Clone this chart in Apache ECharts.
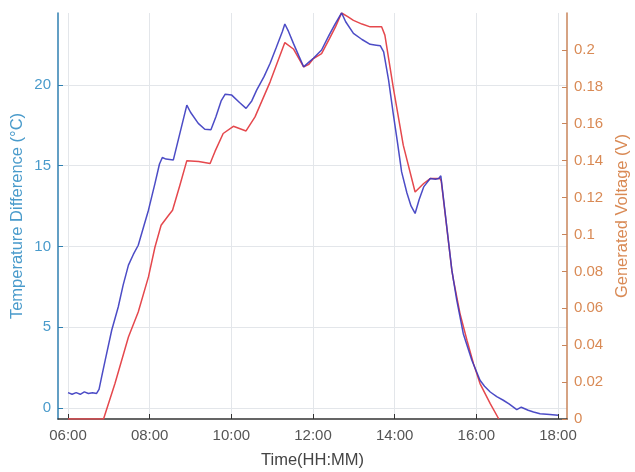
<!DOCTYPE html>
<html><head><meta charset="utf-8">
<script src="https://cdn.jsdelivr.net/npm/echarts@6/dist/echarts.min.js"></script>
<style>html,body{margin:0;padding:0;background:#fff}#c{width:635px;height:472px}</style>
</head><body><div id="c"></div>
<script>
// time in hours since midnight
const tempTime = [6.00,6.10,6.20,6.30,6.40,6.50,6.60,6.70,6.76,6.83,6.91,7.07,7.23,7.35,7.48,7.60,7.72,7.85,7.97,8.13,8.24,8.31,8.40,8.58,8.91,9.00,9.19,9.35,9.50,9.62,9.75,9.85,10.01,10.20,10.36,10.50,10.62,10.80,10.95,11.10,11.25,11.31,11.40,11.52,11.65,11.77,11.90,12.01,12.21,12.40,12.55,12.70,12.80,12.99,13.20,13.40,13.55,13.65,13.73,13.85,13.97,14.07,14.17,14.30,14.40,14.50,14.60,14.71,14.87,15.00,15.08,15.13,15.40,15.52,15.68,15.89,16.09,16.20,16.34,16.50,16.66,16.80,16.99,17.10,17.27,17.40,17.56,17.80,18.00];
const tempDiff = [0.95,0.85,0.95,0.85,1.00,0.90,0.95,0.90,1.15,2.0,2.95,4.81,6.25,7.6,8.84,9.5,10.07,11.2,12.24,13.9,15.1,15.5,15.4,15.35,18.74,18.3,17.61,17.25,17.22,18.0,19.0,19.42,19.36,18.9,18.54,19.0,19.67,20.5,21.33,22.3,23.3,23.76,23.3,22.56,21.8,21.11,21.4,21.64,22.15,23.1,23.8,24.45,23.9,23.18,22.8,22.5,22.45,22.41,22.04,20.3,18.12,16.4,14.61,13.3,12.5,12.04,12.9,13.68,14.2,14.15,14.2,14.37,8.53,6.67,4.6,2.95,1.72,1.35,0.99,0.70,0.48,0.25,-0.1,0.05,-0.14,-0.25,-0.35,-0.40,-0.45];
const voltTime = [6.00,6.87,7.15,7.48,7.72,7.97,8.13,8.28,8.45,8.56,8.74,8.91,9.20,9.48,9.60,9.80,10.05,10.36,10.58,10.95,11.31,11.52,11.77,11.90,12.01,12.21,12.40,12.55,12.70,12.85,12.99,13.20,13.40,13.68,13.76,13.97,14.21,14.50,14.71,14.87,15.11,15.14,15.40,15.44,15.60,15.77,15.93,16.09,16.34,16.55];
const voltage = [0,0,0.0192,0.0444,0.058,0.077,0.0932,0.105,0.110,0.1131,0.1267,0.1400,0.1395,0.1384,0.145,0.1547,0.1586,0.1561,0.1637,0.1827,0.2040,0.2005,0.1908,0.1922,0.1953,0.1980,0.2060,0.2125,0.2200,0.2180,0.2160,0.2140,0.2125,0.2125,0.2080,0.179,0.1484,0.123,0.1276,0.1303,0.1303,0.1290,0.0806,0.0752,0.0571,0.0427,0.030,0.0192,0.0083,0.0];
const xTicks = [6,8,10,12,14,16,18];
const tempTicks = [0,5,10,15,20];
const voltTicks = [0,0.02,0.04,0.06,0.08,0.1,0.12,0.14,0.16,0.18,0.2];

const blueAxis = '#2f7fb0', blueLab = '#4a9bcb';
const orAxis = '#c9855a', orLab = '#d98a55';
const FONT = 'Liberation Sans, Arial, sans-serif';

function hhmm(v){const h=Math.round(v);return (h<10?'0':'')+h+':00';}

const chart = echarts.init(document.getElementById('c'), null, {renderer:'canvas'});
chart.setOption({
  animation:false,
  backgroundColor:'#fff',
  grid:{left:58,right:68,top:13,bottom:53,containLabel:false,outerBoundsMode:'none'},
  xAxis:{
    type:'value', min:5.755, max:18.22,
    name:'Time(HH:MM)', nameLocation:'middle', nameGap:33,
    nameTextStyle:{color:'#444',fontSize:16.5,fontFamily:FONT},
    axisLine:{show:true,onZero:false,lineStyle:{color:'#333',width:1.5}},
    axisTick:{show:true,inside:true,length:5,customValues:xTicks,lineStyle:{color:'#333'}},
    axisLabel:{customValues:xTicks,formatter:hhmm,color:'#555',fontSize:15,fontFamily:FONT,margin:9},
    splitLine:{show:true,lineStyle:{color:'#e3e6ea',width:1}}
  },
  yAxis:[{
    type:'value', min:-0.68, max:24.44, position:'left',
    name:'Temperature Difference (°C)', nameLocation:'middle', nameGap:32, nameMoveOverlap:false,
    nameTextStyle:{color:blueLab,fontSize:16.5,fontFamily:FONT},
    axisLine:{show:true,onZero:false,lineStyle:{color:blueAxis,width:1.5}},
    axisTick:{show:true,inside:true,length:5,customValues:tempTicks,lineStyle:{color:blueAxis}},
    axisLabel:{customValues:tempTicks,color:blueLab,fontSize:15,fontFamily:FONT,margin:7},
    splitLine:{show:true,lineStyle:{color:'#e3e6ea',width:1}}
  },{
    type:'value', min:0, max:0.22, position:'right',
    name:'Generated Voltage (V)', nameLocation:'middle', nameGap:47,
    nameTextStyle:{color:orLab,fontSize:16.5,fontFamily:FONT},
    axisLine:{show:true,onZero:false,lineStyle:{color:orAxis,width:1.5}},
    axisTick:{show:true,inside:true,length:5,customValues:voltTicks,lineStyle:{color:orAxis}},
    axisLabel:{customValues:voltTicks,formatter:v=>String(parseFloat(v.toFixed(2))),color:orLab,fontSize:15,fontFamily:FONT,margin:7},
    splitLine:{show:false}
  }],
  series:[{
    type:'line', name:'Voltage', yAxisIndex:1, showSymbol:false,
    data:voltTime.map((t,i)=>[t,voltage[i]]),
    lineStyle:{color:'#e5484d',width:1.5}, itemStyle:{color:'#e5484d'}, z:2
  },{
    type:'line', name:'Temperature', yAxisIndex:0, showSymbol:false,
    data:tempTime.map((t,i)=>[t,tempDiff[i]]),
    lineStyle:{color:'#3838c0',width:1.5,opacity:0.9}, itemStyle:{color:'#3838c0'}, z:3
  }]
});
</script></body></html>
